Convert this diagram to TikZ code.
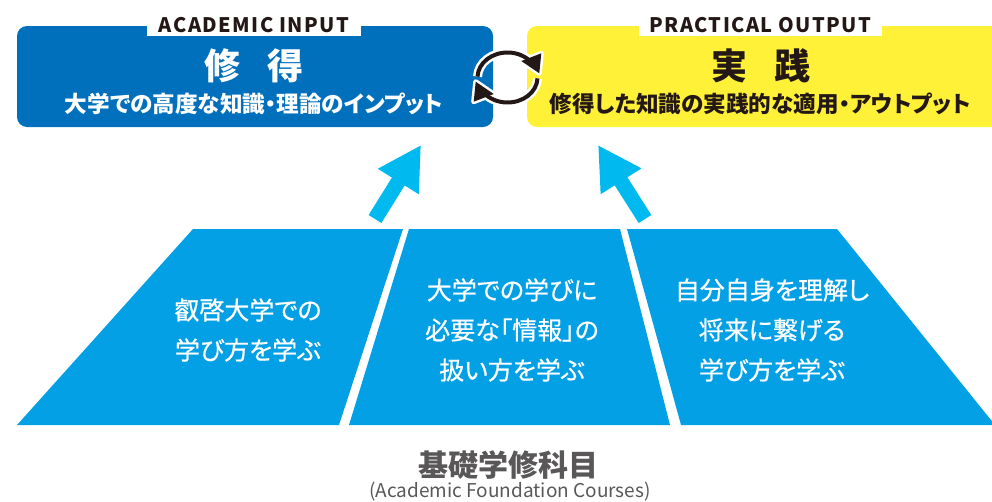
\documentclass[tikz,border=0pt]{standalone}
\usepackage{fontspec}
\setmainfont{Noto Sans CJK JP}[RawFeature=+palt]
\usetikzlibrary{arrows.meta}
\definecolor{boxblue}{RGB}{0,112,189}
\definecolor{boxyellow}{RGB}{255,241,55}
\definecolor{panelblue}{RGB}{3,160,230}
\definecolor{arrowcyan}{RGB}{0,185,239}
\definecolor{darktext}{RGB}{35,24,21}
\definecolor{graytext}{RGB}{89,87,87}
\tikzset{
  bigbox/.style={rectangle, rounded corners=10pt, inner sep=0pt, minimum height=101pt},
  tagbox/.style={rectangle, fill=white, inner sep=0pt, minimum height=21pt, text=darktext,
    font=\fontsize{20}{22}\selectfont\bfseries\addfontfeatures{LetterSpace=7}},
  titletext/.style={inner sep=0pt, font=\fontsize{36}{40}\selectfont\bfseries},
  subtext/.style={inner sep=0pt, font=\fontsize{22.6}{25}\selectfont\bfseries},
  panel/.style={fill=panelblue},
  paneltext/.style={inner sep=0pt, text=white, align=center, font=\fontsize{25}{40}\selectfont\addfontfeatures{FakeBold=0.6}},
  uparrow/.style={draw=arrowcyan, line width=15pt, -{Triangle[length=43pt,width=45pt]}},
  cyclewhite/.style={draw=white, line width=9pt},
  cycleblack/.style={draw=darktext, line width=4pt},
}
\begin{document}
\begin{tikzpicture}[x=1pt,y=-1pt]
\useasboundingbox (0,0) rectangle (992,501);
% boxes
\node[bigbox, fill=boxblue, minimum width=476pt] (input) at (255,76.5) {};
\node[bigbox, fill=boxyellow, minimum width=480pt] (output) at (767,76.5) {};
\node[tagbox, minimum width=214pt] (inputtag) at (254,25.5) {ACADEMIC INPUT};
\node[tagbox, minimum width=243pt] (outputtag) at (760.5,25.5) {PRACTICAL OUTPUT};
\node[titletext, text=white] (inputtitle) at (254,66) {修\hspace{0.75em}得};
\node[subtext, text=white] (inputsub) at (254,104) {大学での高度な知識・理論のインプット};
\node[titletext, text=darktext] (outputtitle) at (761,66) {実\hspace{0.75em}践};
\node[subtext, text=darktext] (outputsub) at (760,104) {修得した知識の実践的な適用・アウトプット};
% cycle icon
\begin{scope}[shift={(507.5,77.5)}]
  \path[cyclewhite] (182:30 and 25) arc[start angle=182, end angle=322, x radius=30, y radius=25];
  \path[cyclewhite] (2:30 and 25) arc[start angle=2, end angle=142, x radius=30, y radius=25];
  \filldraw[white, line width=5pt, line join=round] (13.8,-16.5) -- (33.8,-24.2) -- (31.8,-4.2) -- cycle;
  \filldraw[white, line width=5pt, line join=round] (-13.8,16.5) -- (-33.8,24.2) -- (-31.8,4.2) -- cycle;
  \path[cycleblack] (182:30 and 25) arc[start angle=182, end angle=322, x radius=30, y radius=25];
  \path[cycleblack] (2:30 and 25) arc[start angle=2, end angle=142, x radius=30, y radius=25];
  \fill[darktext] (13.8,-16.5) -- (33.8,-24.2) -- (31.8,-4.2) -- cycle;
  \fill[darktext] (-13.8,16.5) -- (-33.8,24.2) -- (-31.8,4.2) -- cycle;
\end{scope}
% panels
\fill[panel] (193,229) -- (403,229) -- (339,425) -- (17,425) -- cycle;
\fill[panel] (409,229) -- (620,229) -- (670,425) -- (349,425) -- cycle;
\fill[panel] (627,229) -- (837,229) -- (995,425) -- (681,425) -- cycle;
\node[paneltext] (p1) at (248,330) {叡啓大学での\\学び方を学ぶ};
\node[paneltext] (p2) at (512,330) {大学での学びに\\必要な「情報」の\\扱い方を学ぶ};
\node[paneltext] (p3) at (772,330) {自分自身を理解し\\将来に繋げる\\学び方を学ぶ};
% arrows
\coordinate (a1s) at (375,219);
\coordinate (a1e) at (421,145);
\coordinate (a2s) at (645,219);
\coordinate (a2e) at (598,145);
\draw[uparrow] (a1s) -- (a1e);
\draw[uparrow] (a2s) -- (a2e);
% bottom
\node[inner sep=0pt, text=graytext, font=\fontsize{30}{34}\selectfont\bfseries] (base) at (508,465) {基礎学修科目};
\node[inner sep=0pt, text=graytext, font=\fontsize{19}{20}\selectfont] (basesub) at (510,492) {(Academic Foundation Courses)};
\end{tikzpicture}
\end{document}
